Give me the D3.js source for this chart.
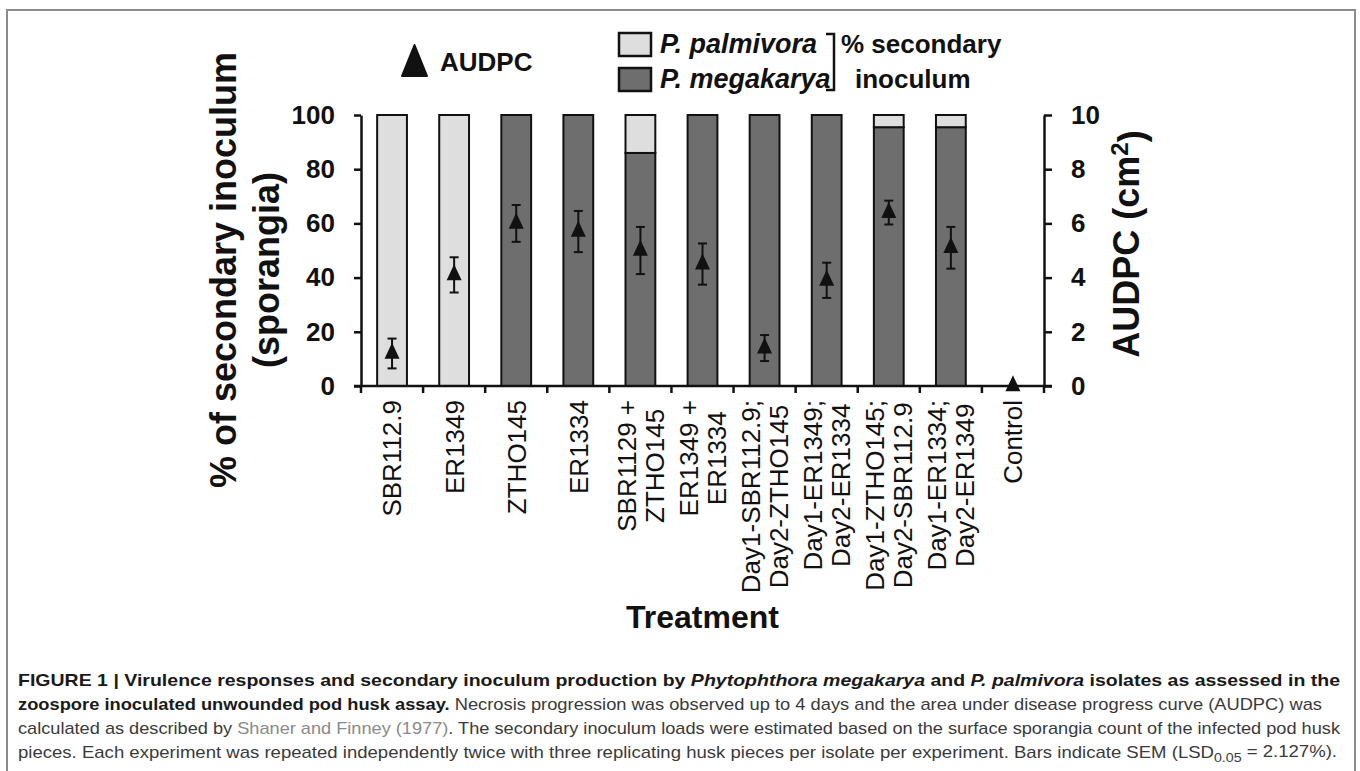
<!DOCTYPE html>
<html><head><meta charset="utf-8">
<script src="https://cdn.jsdelivr.net/npm/d3@7"></script>
<style>body{margin:0;background:#fff}svg{display:block}</style>
</head><body>
<svg id="chart" width="1360" height="771"></svg>
<script>
// ---------- data ----------
const categories = ["SBR112.9", "ER1349", "ZTHO145", "ER1334", "SBR1129 +\nZTHO145", "ER1349 +\nER1334",
  "Day1-SBR112.9;\nDay2-ZTHO145", "Day1-ER1349;\nDay2-ER1334", "Day1-ZTHO145;\nDay2-SBR112.9",
  "Day1-ER1334;\nDay2-ER1349", "Control"];
const megakarya = [0, 0, 100, 100, 86, 100, 100, 100, 95.5, 95.5, 0];
const palmivora = [100, 100, 0, 0, 14, 0, 0, 0, 4.5, 4.5, 0];
const audpc = [1.2, 4.1, 6.0, 5.7, 5.0, 4.5, 1.4, 3.9, 6.4, 5.1, 0];
const audpcSem = [0.55, 0.65, 0.68, 0.76, 0.87, 0.76, 0.48, 0.65, 0.44, 0.77, 0];
const leftTicks = [0, 20, 40, 60, 80, 100];
const rightTicks = [0, 2, 4, 6, 8, 10];
const leftTitle = ["% of secondary inoculum", "(sporangia)"];
const xTitle = "Treatment";
const legendSeries = ["P. palmivora", "P. megakarya"];
const legendGroup = ["% secondary", "inoculum"];
const captionLines = [
  [["FIGURE 1 | Virulence responses and secondary inoculum production by ", "b"], ["Phytophthora megakarya", "bi"], [" and ", "b"], ["P. palmivora", "bi"], [" isolates as assessed in the", "b"]],
  [["zoospore inoculated unwounded pod husk assay.", "b"], [" Necrosis progression was observed up to 4 days and the area under disease progress curve (AUDPC) was", "r"]],
  [["calculated as described by ", "r"], ["Shaner and Finney (1977)", "link"], [". The secondary inoculum loads were estimated based on the surface sporangia count of the infected pod husk", "r"]],
  [["pieces. Each experiment was repeated independently twice with three replicating husk pieces per isolate per experiment. Bars indicate SEM (LSD", "r"], ["0.05", "sub"], [" = 2.127%).", "r"]]
];

// ---------- setup ----------
const FONT = "'Liberation Sans', Arial, Helvetica, sans-serif";
const svg = d3.select("#chart");
const plot = {left: 361, right: 1044, top: 115, bottom: 386};
const LIGHT = "#dedede", DARK = "#6e6e6e", INK = "#111";

svg.append("rect").attr("x", 7).attr("y", 10).attr("width", 1348).attr("height", 776)
  .attr("fill", "none").attr("stroke", "#8c8c8c").attr("stroke-width", 2);

const idx = d3.range(categories.length);
const x = d3.scaleBand().domain(idx).range([plot.left, plot.right]).paddingInner(0.52).paddingOuter(0.26);
const yL = d3.scaleLinear().domain([0, 100]).range([plot.bottom, plot.top]);
const yR = d3.scaleLinear().domain([0, 10]).range([plot.bottom, plot.top]);
const step = x.step();

// ---------- bars ----------
const table = idx.map(i => ({i, megakarya: megakarya[i], palmivora: palmivora[i]}));
const stack = d3.stack().keys(["megakarya", "palmivora"])(table);
const fills = {megakarya: DARK, palmivora: LIGHT};
stack.forEach(layer => {
  svg.append("g").selectAll("rect").data(layer.filter(d => d[1] - d[0] > 0)).join("rect")
    .attr("x", d => x(d.data.i)).attr("width", x.bandwidth())
    .attr("y", d => yL(d[1])).attr("height", d => yL(d[0]) - yL(d[1]))
    .attr("fill", fills[layer.key]).attr("stroke", INK).attr("stroke-width", 2);
});

// ---------- axes ----------
function styleAxis(g) {
  g.select(".domain").attr("stroke", INK).attr("stroke-width", 2.5);
  g.selectAll(".tick line").attr("stroke", INK).attr("stroke-width", 2.5);
  g.selectAll(".tick text").attr("fill", INK).style("font", `bold 26px ${FONT}`);
}
svg.append("g").attr("transform", `translate(${plot.left},0)`)
  .call(d3.axisLeft(yL).tickValues(leftTicks).tickSize(7).tickSizeOuter(0).tickPadding(19))
  .call(styleAxis);
svg.append("g").attr("transform", `translate(${plot.right},0)`)
  .call(d3.axisRight(yR).tickValues(rightTicks).tickSize(8).tickSizeOuter(0).tickPadding(19))
  .call(styleAxis);

// x baseline and boundary ticks
svg.append("line").attr("x1", plot.left - 7).attr("x2", plot.right + 8)
  .attr("y1", yL(0)).attr("y2", yL(0)).attr("stroke", INK).attr("stroke-width", 2.5);
const bounds = idx.map(i => x(i) + x.bandwidth() / 2 - step / 2).concat([x(idx.length - 1) + x.bandwidth() / 2 + step / 2]);
svg.append("g").selectAll("line").data(bounds).join("line")
  .attr("x1", d => d).attr("x2", d => d).attr("y1", yL(0)).attr("y2", yL(0) + 7)
  .attr("stroke", INK).attr("stroke-width", 2.5);

// x tick labels (rotated)
const labelTop = 400;
idx.forEach(i => {
  const lines = categories[i].split("\n");
  const cx = x(i) + x.bandwidth() / 2;
  const g = svg.append("g").attr("transform", `translate(${cx},${labelTop}) rotate(-90)`);
  const gap = 28;
  const t = g.append("text").attr("fill", INK).style("font", `26px ${FONT}`);
  lines.forEach((ln, k) => {
    t.append("tspan").attr("x", 0).attr("y", (k - (lines.length - 1) / 2) * gap).attr("dy", "0.36em").text(ln);
  });
  if (lines.length === 1) {
    t.attr("text-anchor", "end");
  } else {
    const maxL = d3.max(t.selectAll("tspan").nodes(), n => n.getComputedTextLength());
    t.attr("text-anchor", "middle");
    t.selectAll("tspan").attr("x", -maxL / 2);
  }
});

// ---------- AUDPC markers ----------
const tri = (cx, cy, w, h) => `M${cx - w / 2},${cy + h / 3}L${cx + w / 2},${cy + h / 3}L${cx},${cy - 2 * h / 3}Z`;
const eg = svg.append("g");
idx.forEach(i => {
  const cx = x(i) + x.bandwidth() / 2;
  if (audpcSem[i] > 0) {
    const y1 = yR(audpc[i] + audpcSem[i]), y0 = yR(audpc[i] - audpcSem[i]);
    eg.append("line").attr("x1", cx).attr("x2", cx).attr("y1", y1).attr("y2", y0).attr("stroke", INK).attr("stroke-width", 2);
    [y1, y0].forEach(yy => eg.append("line").attr("x1", cx - 4.5).attr("x2", cx + 4.5).attr("y1", yy).attr("y2", yy)
      .attr("stroke", INK).attr("stroke-width", 2));
  }
  eg.append("path").attr("d", tri(cx, yR(audpc[i]), 15, 16)).attr("fill", INK);
});

// ---------- axis titles ----------
const lt = svg.append("text").attr("transform", `translate(0,270) rotate(-90)`)
  .attr("text-anchor", "middle").attr("fill", INK).style("font", `bold 36px ${FONT}`);
lt.append("tspan").attr("x", 0).attr("y", 236).text(leftTitle[0]);
lt.append("tspan").attr("x", 0).attr("y", 279).text(leftTitle[1]);

const rt = svg.append("text").attr("transform", `translate(1139,244) rotate(-90)`)
  .attr("text-anchor", "middle").attr("fill", INK).style("font", `bold 36px ${FONT}`);
rt.append("tspan").text("AUDPC (cm");
rt.append("tspan").attr("dy", "-0.45em").style("font-size", "24px").text("2");
rt.append("tspan").attr("dy", "0.45em").text(")");

svg.append("text").attr("x", (plot.left + plot.right) / 2).attr("y", 628).attr("text-anchor", "middle")
  .attr("fill", INK).style("font", `bold 32px ${FONT}`).text(xTitle);

// ---------- legend ----------
svg.append("path").attr("d", "M402,76L427,76L414.5,45Z").attr("fill", INK).attr("stroke", INK)
  .attr("stroke-width", 2).attr("stroke-linejoin", "round");
svg.append("text").attr("x", 440).attr("y", 71).attr("fill", INK).style("font", `bold 26px ${FONT}`).text("AUDPC");
[LIGHT, DARK].forEach((c, k) => {
  svg.append("rect").attr("x", 619).attr("y", 33 + k * 35).attr("width", 32).attr("height", 23)
    .attr("fill", c).attr("stroke", INK).attr("stroke-width", 2.5);
  svg.append("text").attr("x", 660).attr("y", 53 + k * 35).attr("fill", INK)
    .style("font", `italic bold 27px ${FONT}`).text(legendSeries[k]);
});
svg.append("path").attr("d", "M826,34H834V90H826").attr("fill", "none").attr("stroke", INK).attr("stroke-width", 2.5);
svg.append("text").attr("x", 841).attr("y", 53).attr("fill", INK).style("font", `bold 26px ${FONT}`).text(legendGroup[0]);
svg.append("text").attr("x", 855).attr("y", 88).attr("fill", INK).style("font", `bold 26px ${FONT}`).text(legendGroup[1]);

// ---------- caption ----------
const CFONT = "'Liberation Sans Narrow', 'Arial Narrow', 'Liberation Sans', Arial, sans-serif";
const capBase = [686, 710, 734, 758];
const capEnd = [1340, 1322, 1340, 1337];
captionLines.forEach((segs, k) => {
  const t = svg.append("text").attr("x", 18).attr("y", capBase[k]).style("font", `17px ${CFONT}`).attr("fill", "#3a3a3a");
  segs.forEach(([txt, kind]) => {
    const s = t.append("tspan").text(txt);
    if (kind === "b") s.attr("font-weight", "bold").attr("fill", "#1a1a1a");
    if (kind === "bi") s.attr("font-weight", "bold").attr("font-style", "italic").attr("fill", "#1a1a1a");
    if (kind === "link") s.attr("fill", "#8a8a8a");
    if (kind === "sub") { s.attr("dy", "0.3em").style("font-size", "13px"); }
    if (kind === "r" && segs.some(sg => sg[1] === "sub") && txt.startsWith(" =")) s.attr("dy", "-0.3em");
  });
  t.attr("textLength", capEnd[k] - 18).attr("lengthAdjust", "spacingAndGlyphs");
});
</script>
</body></html>
